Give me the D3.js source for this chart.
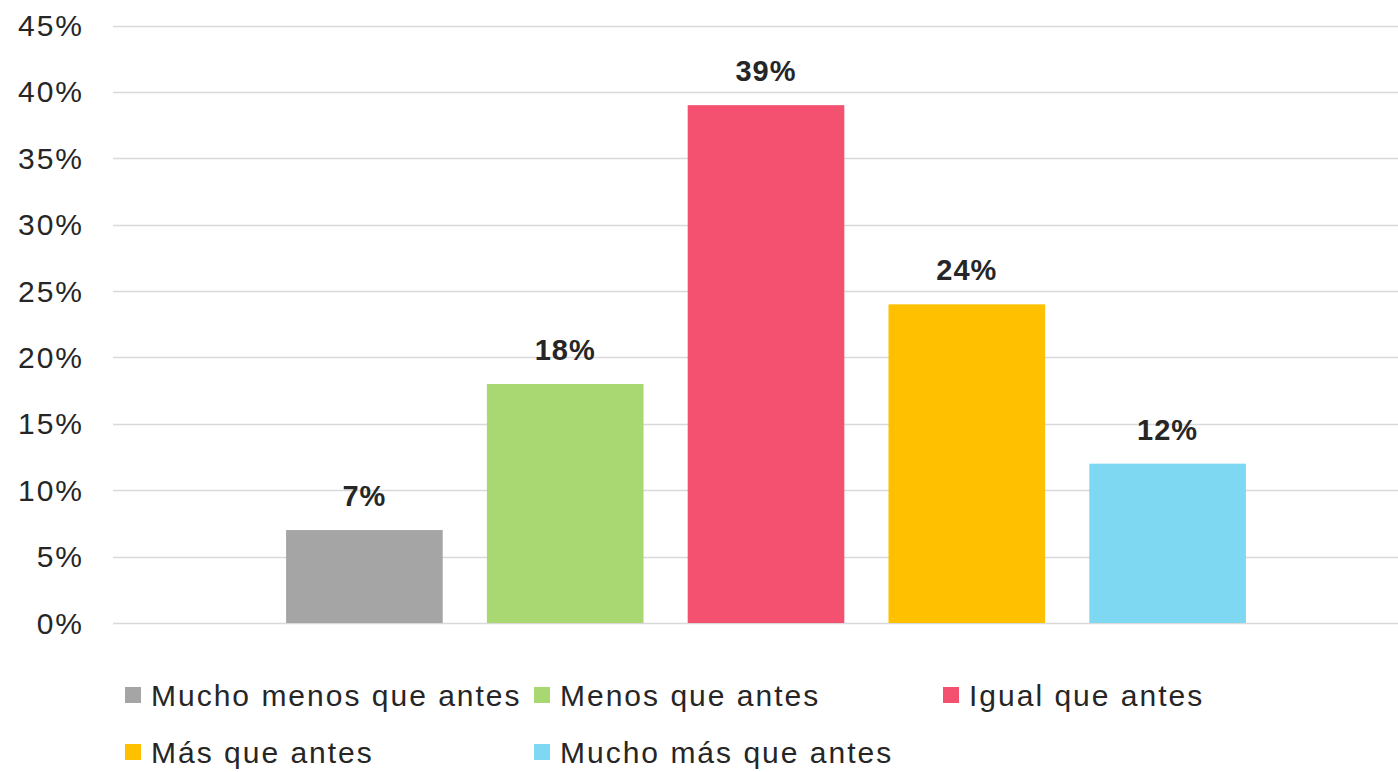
<!DOCTYPE html>
<html>
<head>
<meta charset="utf-8">
<script src="https://cdn.jsdelivr.net/npm/d3@7"></script>
<style>
  html, body { margin: 0; padding: 0; background: #ffffff; }
  svg { display: block; }
  text { font-family: "Liberation Sans", Arial, sans-serif; }
</style>
</head>
<body>
<svg id="chart" width="1398" height="772"></svg>
<script>
const categories = ["Mucho menos que antes", "Menos que antes", "Igual que antes", "Más que antes", "Mucho más que antes"];
const values = [7, 18, 39, 24, 12];
const colors = ["#A5A5A5", "#A9D772", "#F4506F", "#FFC000", "#7ED8F2"];
const yTicks = [0, 5, 10, 15, 20, 25, 30, 35, 40, 45];

const svg = d3.select("#chart");
const W = 1398, H = 772;
const plot = { left: 113, right: 1398, top: 25.5, bottom: 623 };

const y = d3.scaleLinear().domain([0, 45]).range([plot.bottom, plot.top]);
const x = d3.scaleBand().domain(categories).range([264, 1268]).paddingInner(0.22).paddingOuter(0.11);

// gridlines
svg.append("g").selectAll("line").data(yTicks).join("line")
  .attr("x1", plot.left).attr("x2", plot.right)
  .attr("y1", d => Math.round(y(d)) + 0.5).attr("y2", d => Math.round(y(d)) + 0.5)
  .attr("stroke", "#D9D9D9").attr("stroke-width", 1.5);

// y axis labels
svg.append("g").selectAll("text").data(yTicks).join("text")
  .attr("x", 84).attr("y", d => y(d))
  .attr("dy", "0.35em")
  .attr("text-anchor", "end")
  .style("font-size", "30px").style("letter-spacing", "2px")
  .attr("fill", "#262626")
  .text(d => d + "%");

// bars
svg.append("g").selectAll("rect").data(categories).join("rect")
  .attr("x", d => x(d)).attr("width", x.bandwidth())
  .attr("y", (d, i) => y(values[i]))
  .attr("height", (d, i) => y(0) - y(values[i]))
  .attr("fill", (d, i) => colors[i]);

// data labels
svg.append("g").selectAll("text").data(categories).join("text")
  .attr("x", d => x(d) + x.bandwidth() / 2)
  .attr("y", (d, i) => y(values[i]) - 24)
  .attr("text-anchor", "middle")
  .style("font-size", "29px").style("font-weight", "bold").style("letter-spacing", "1px")
  .attr("fill", "#262626")
  .text((d, i) => values[i] + "%");

// legend
const legCols = 3;
const legX0 = 125, legStep = 409, legY0 = 695, legRowH = 57;
const leg = svg.append("g").selectAll("g").data(categories).join("g")
  .attr("transform", (d, i) => `translate(${legX0 + (i % legCols) * legStep},${legY0 + Math.floor(i / legCols) * legRowH})`);
leg.append("rect").attr("x", 0).attr("y", -8).attr("width", 16).attr("height", 16)
  .attr("fill", (d, i) => colors[i]);
leg.append("text").attr("x", 26).attr("y", 0).attr("dy", "0.35em")
  .style("font-size", "30px").style("letter-spacing", "2px")
  .attr("fill", "#262626")
  .text(d => d);
</script>
</body>
</html>
